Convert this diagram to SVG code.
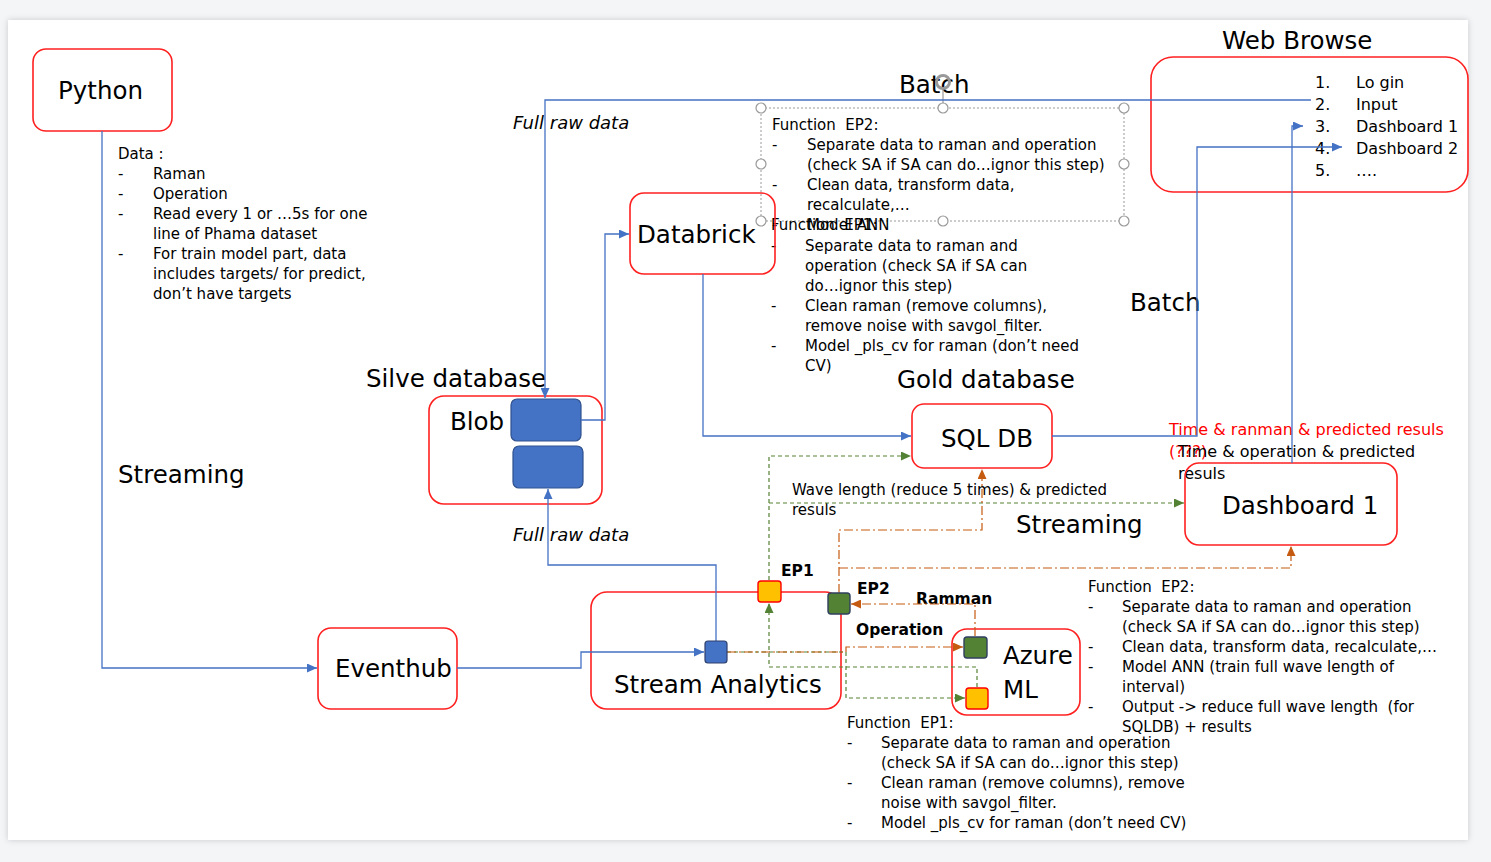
<svg xmlns="http://www.w3.org/2000/svg" width="1491" height="862" viewBox="0 0 1491 862">
<defs>
<style>
.box{fill:none;stroke:#FF2020;stroke-width:1.6}
.big{font-family:"DejaVu Sans",Verdana,sans-serif;font-size:24.5px;fill:#000}
.sm{font-family:"DejaVu Sans",Verdana,sans-serif;font-size:15px;fill:#000}
.md{font-family:"DejaVu Sans",Verdana,sans-serif;font-size:16px;fill:#000}
.bd{font-family:"DejaVu Sans",Verdana,sans-serif;font-size:15.5px;font-weight:bold;fill:#000}
.it{font-family:"DejaVu Sans",Verdana,sans-serif;font-size:18px;font-style:italic;fill:#000}
.red{fill:#FF0000}
.blue{fill:none;stroke:#4472C4;stroke-width:1.3}
.green{fill:none;stroke:#548235;stroke-width:1.2;stroke-dasharray:4 3}
.orange{fill:none;stroke:#C55A11;stroke-width:1.2;stroke-dasharray:9 3 2 3}
.handle{fill:#fff;stroke:#999;stroke-width:1.2}
</style>
<marker id="ab" markerUnits="userSpaceOnUse" markerWidth="10" markerHeight="9" refX="10" refY="4.5" orient="auto"><path d="M0,0 L10,4.5 L0,9 z" fill="#4472C4"/></marker>
<marker id="ag" markerUnits="userSpaceOnUse" markerWidth="10" markerHeight="9" refX="10" refY="4.5" orient="auto"><path d="M0,0 L10,4.5 L0,9 z" fill="#548235"/></marker>
<marker id="ao" markerUnits="userSpaceOnUse" markerWidth="10" markerHeight="9" refX="10" refY="4.5" orient="auto"><path d="M0,0 L10,4.5 L0,9 z" fill="#C55A11"/></marker>
<filter id="sh" x="-2%" y="-2%" width="104%" height="104%"><feGaussianBlur stdDeviation="3"/></filter>
</defs>

<rect x="0" y="0" width="1491" height="862" fill="#F4F5F7"/>
<rect x="8" y="20" width="1460" height="820" fill="#c8c9cc" filter="url(#sh)"/>
<rect x="8" y="20" width="1460" height="820" fill="#FFFFFF"/>

<!-- free labels -->
<g id="labels">
<text class="big" x="899" y="93">Batch</text>
<text class="big" x="1130" y="311">Batch</text>
<text class="big" x="118" y="483">Streaming</text>
<text class="big" x="1016" y="533">Streaming</text>
<text class="big" x="366" y="387">Silve database</text>
<text class="big" x="897" y="388">Gold database</text>
<text class="big" x="1222" y="49">Web Browse</text>
<text class="it" x="513" y="129">Full raw data</text>
<text class="it" x="513" y="541">Full raw data</text>
<text class="md red" x="1169" y="435">Time &amp; ranman &amp; predicted resuls</text>
<text class="md red" x="1169" y="457">(???)</text>
<text class="md" x="1178" y="457">Time &amp; operation &amp; predicted</text>
<text class="md" x="1178" y="479">resuls</text>
<text class="sm" x="792" y="495">Wave length (reduce 5 times) &amp; predicted</text>
<text class="sm" x="792" y="515">resuls</text>
<text class="bd" x="781" y="576">EP1</text>
<text class="bd" x="857" y="594">EP2</text>
<text class="bd" x="916" y="604">Ramman</text>
<text class="bd" x="856" y="635">Operation</text>
</g>

<!-- data notes -->
<g id="data-note" class="sm">
<text x="118" y="159">Data :</text>
<text x="118" y="179">-</text><text x="153" y="179">Raman</text>
<text x="118" y="199">-</text><text x="153" y="199">Operation</text>
<text x="118" y="219">-</text><text x="153" y="219">Read every 1 or …5s for one</text>
<text x="153" y="239">line of Phama dataset</text>
<text x="118" y="259">-</text><text x="153" y="259">For train model part, data</text>
<text x="153" y="279">includes targets/ for predict,</text>
<text x="153" y="299">don’t have targets</text>
</g>

<!-- selection frame around top EP2 text -->
<g id="selection">
<rect x="761" y="108" width="363" height="113" fill="none" stroke="#999" stroke-width="1" stroke-dasharray="2 2"/>
<line x1="943" y1="90" x2="943" y2="108" stroke="#999" stroke-width="1.2"/>
<circle cx="943" cy="82" r="6.5" fill="none" stroke="#999" stroke-width="3"/>
<circle class="handle" cx="761" cy="108" r="5"/><circle class="handle" cx="943" cy="108" r="5"/><circle class="handle" cx="1124" cy="108" r="5"/>
<circle class="handle" cx="761" cy="164" r="5"/><circle class="handle" cx="1124" cy="164" r="5"/>
<circle class="handle" cx="761" cy="221" r="5"/><circle class="handle" cx="943" cy="221" r="5"/><circle class="handle" cx="1124" cy="221" r="5"/>
</g>

<g id="note-ep2-top" class="sm">
<text x="772" y="130">Function&#160; EP2:</text>
<text x="772" y="150">-</text><text x="807" y="150">Separate data to raman and operation</text>
<text x="807" y="170">(check SA if SA can do…ignor this step)</text>
<text x="772" y="190">-</text><text x="807" y="190">Clean data, transform data,</text>
<text x="807" y="210">recalculate,…</text>
<text x="772" y="230">-</text><text x="807" y="230">Model ANN</text>
</g>

<g id="note-ep1-top" class="sm">
<text x="771" y="230">Function&#160; EP1:</text>
<text x="771" y="251">-</text><text x="805" y="251">Separate data to raman and</text>
<text x="805" y="271">operation (check SA if SA can</text>
<text x="805" y="291">do…ignor this step)</text>
<text x="771" y="311">-</text><text x="805" y="311">Clean raman (remove columns),</text>
<text x="805" y="331">remove noise with savgol_filter.</text>
<text x="771" y="351">-</text><text x="805" y="351">Model _pls_cv for raman (don’t need</text>
<text x="805" y="371">CV)</text>
</g>

<g id="note-ep2-bottom" class="sm">
<text x="1088" y="592">Function&#160; EP2:</text>
<text x="1088" y="612">-</text><text x="1122" y="612">Separate data to raman and operation</text>
<text x="1122" y="632">(check SA if SA can do…ignor this step)</text>
<text x="1088" y="652">-</text><text x="1122" y="652">Clean data, transform data, recalculate,…</text>
<text x="1088" y="672">-</text><text x="1122" y="672">Model ANN (train full wave length of</text>
<text x="1122" y="692">interval)</text>
<text x="1088" y="712">-</text><text x="1122" y="712">Output -&gt; reduce full wave length&#160; (for</text>
<text x="1122" y="732">SQLDB) + results</text>
</g>

<g id="note-ep1-bottom" class="sm">
<text x="847" y="728">Function&#160; EP1:</text>
<text x="847" y="748">-</text><text x="881" y="748">Separate data to raman and operation</text>
<text x="881" y="768">(check SA if SA can do…ignor this step)</text>
<text x="847" y="788">-</text><text x="881" y="788">Clean raman (remove columns), remove</text>
<text x="881" y="808">noise with savgol_filter.</text>
<text x="847" y="828">-</text><text x="881" y="828">Model _pls_cv for raman (don’t need CV)</text>
</g>

<!-- nodes -->
<g id="python"><rect class="box" x="33" y="49" width="139" height="82" rx="13"/><text class="big" x="58" y="99">Python</text></g>
<g id="eventhub"><rect class="box" x="318" y="628" width="139" height="81" rx="13"/><text class="big" x="335" y="677">Eventhub</text></g>
<g id="stream-analytics"><rect class="box" x="591" y="592" width="250" height="117" rx="16"/><text class="big" x="614" y="693">Stream Analytics</text></g>
<g id="blob"><rect class="box" x="429" y="396" width="173" height="108" rx="15"/><text class="big" x="450" y="430">Blob</text>
<rect x="511" y="399" width="70" height="42" rx="6" fill="#4472C4" stroke="#2F528F" stroke-width="1.2"/>
<rect x="513" y="446" width="70" height="42" rx="6" fill="#4472C4" stroke="#2F528F" stroke-width="1.2"/></g>
<g id="databrick"><rect class="box" x="630" y="193" width="145" height="81" rx="14"/><text class="big" x="637" y="243">Databrick</text></g>
<g id="sqldb"><rect class="box" x="912" y="404" width="140" height="64" rx="12"/><text class="big" x="941" y="447">SQL DB</text></g>
<g id="dashboard1"><rect class="box" x="1185" y="463" width="212" height="82" rx="14"/><text class="big" x="1222" y="514">Dashboard 1</text></g>
<g id="azure-ml"><rect class="box" x="952" y="629" width="128" height="86" rx="15"/><text class="big" x="1003" y="664">Azure</text><text class="big" x="1003" y="698">ML</text></g>
<g id="web-browse"><rect class="box" x="1151" y="57" width="317" height="135" rx="22"/>
<g class="md">
<text x="1315" y="88">1.</text><text x="1356" y="88">Lo gin</text>
<text x="1315" y="110">2.</text><text x="1356" y="110">Input</text>
<text x="1315" y="132">3.</text><text x="1356" y="132">Dashboard 1</text>
<text x="1315" y="154">4.</text><text x="1356" y="154">Dashboard 2</text>
<text x="1315" y="176">5.</text><text x="1356" y="176">….</text>
</g></g>

<!-- connectors -->
<g id="connectors">
<path class="blue" d="M102,131 V668 H317" marker-end="url(#ab)"/>
<path class="blue" d="M457,668 H581 V652 H704" marker-end="url(#ab)"/>
<path class="blue" d="M716,641 V565 H548 V489" marker-end="url(#ab)"/>
<path class="blue" d="M581,420 H605 V234 H629" marker-end="url(#ab)"/>
<path class="blue" d="M703,274 V436 H911" marker-end="url(#ab)"/>
<path class="blue" d="M1311,100 H545 V398" marker-end="url(#ab)"/>
<path class="blue" d="M1052,436 H1197 V147 H1342" marker-end="url(#ab)"/>
<path class="blue" d="M1292,463 V126 H1303" marker-end="url(#ab)"/>
<path class="green" d="M769,580 V456 H911" marker-end="url(#ag)"/>
<path class="green" d="M769,503 H1184" marker-end="url(#ag)"/>
<path class="green" d="M977,687 V667 H769 V603" marker-end="url(#ag)"/>
<path class="green" d="M727,652 H846 V698 H965" marker-end="url(#ag)"/>
<path class="orange" d="M839,593 V530 H982 V469" marker-end="url(#ao)"/>
<path class="orange" d="M839,568 H1291 V546" marker-end="url(#ao)"/>
<path class="orange" d="M975,636 V604 H851" marker-end="url(#ao)"/>
<path class="orange" d="M727,652 H846 V647 H963" marker-end="url(#ao)"/>
</g>

<!-- ports -->
<g id="sa-input"><rect x="705" y="641" width="22" height="22" rx="3" fill="#4472C4" stroke="#2F3F6F" stroke-width="1.2"/></g>
<g id="ep1"><rect x="758" y="581" width="23" height="21" rx="3" fill="#FFC000" stroke="#FF0000" stroke-width="1.4"/></g>
<g id="ep2"><rect x="828" y="593" width="22" height="21" rx="3" fill="#548235" stroke="#2F3F5F" stroke-width="1.4"/></g>
<g id="ml-ep2"><rect x="964" y="637" width="23" height="21" rx="3" fill="#548235" stroke="#2F3F5F" stroke-width="1.4"/></g>
<g id="ml-ep1"><rect x="966" y="688" width="22" height="21" rx="3" fill="#FFC000" stroke="#FF0000" stroke-width="1.4"/></g>
</svg>
